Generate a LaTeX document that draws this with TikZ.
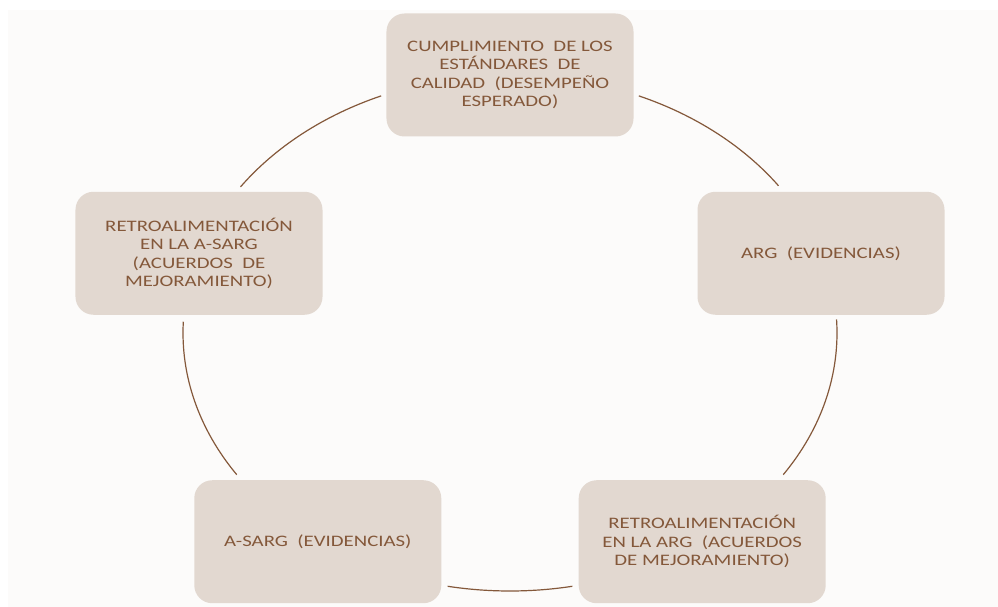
\documentclass[tikz,border=0pt]{standalone}
\usepackage{fontspec}
\setmainfont[FakeStretch=1.3]{Carlito}
\usepackage{tikz}
\definecolor{mybrown}{RGB}{132,88,58}
\definecolor{mybox}{RGB}{226,216,208}
\definecolor{mybg}{RGB}{252,251,250}

\begin{document}
\begin{tikzpicture}[
    x=1pt, y=1pt,
    box/.style={rectangle, rounded corners=18pt, fill=mybox, text=mybrown,
                minimum width=247pt, minimum height=123pt, align=center,
                font=\fontsize{16}{18.4}\selectfont},
    link/.style={draw=mybrown, line width=1.2pt}
]
    \useasboundingbox (-510,-274) rectangle (488,333);
    \fill[mybg] (-502,-274) rectangle (488,323);

    \node[box] (calidad) at (90:327 and 258) {CUMPLIMIENTO\ \ DE LOS\\ESTÁNDARES\ \ DE\\CALIDAD\ \ (DESEMPEÑO\\ESPERADO)};
    \node[box] (arg) at (18:327 and 258) {ARG\ \ (EVIDENCIAS)};
    \node[box] (retroarg) at (-54:327 and 258) {RETROALIMENTACIÓN\\EN LA ARG\ \ (ACUERDOS\\DE MEJORAMIENTO)};
    \node[box] (asarg) at (-126:327 and 258) {A-SARG\ \ (EVIDENCIAS)};
    \node[box] (retroasarg) at (162:327 and 258) {RETROALIMENTACIÓN\\EN LA A-SARG\\(ACUERDOS\ \ DE\\MEJORAMIENTO)};

    % arcs of the cycle
    \coordinate (c1) at (66.8:327 and 258);
    \coordinate (c2) at (3:327 and 258);
    \coordinate (c3) at (-79:327 and 258);
    \coordinate (c4) at (-146.7:327 and 258);
    \coordinate (c5) at (145.5:327 and 258);

    \draw[link] (c1) arc[start angle=66.8, end angle=34.8, x radius=327, y radius=258];
    \draw[link] (c2) arc[start angle=3, end angle=-33.3, x radius=327, y radius=258];
    \draw[link] (c3) arc[start angle=-79, end angle=-101, x radius=327, y radius=258];
    \draw[link] (c4) arc[start angle=-146.7, end angle=-182.5, x radius=327, y radius=258];
    \draw[link] (c5) arc[start angle=145.5, end angle=113.2, x radius=327, y radius=258];
\end{tikzpicture}
\end{document}
